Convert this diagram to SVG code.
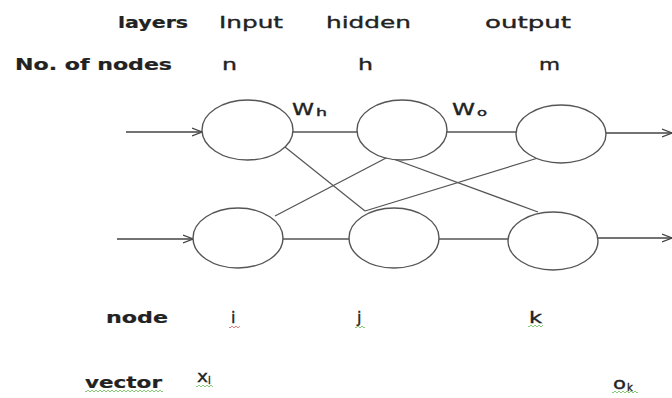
<svg xmlns="http://www.w3.org/2000/svg" width="672" height="398" viewBox="0 0 672 398">
  <defs>
    <marker id="arrow" viewBox="0 0 10 10" refX="10" refY="5" markerWidth="10" markerHeight="10" markerUnits="userSpaceOnUse" orient="auto">
      <path d="M0,1 L10,5 L0,9" fill="none" stroke="#444" stroke-width="1.3"/>
    </marker>
    <path id="squig" d="M0,0 q1,2 2,0 t2,0 t2,0 t2,0 t2,0 t2,0 t2,0 t2,0 t2,0 t2,0 t2,0 t2,0 t2,0 t2,0 t2,0 t2,0 t2,0 t2,0 t2,0 t2,0 t2,0 t2,0 t2,0 t2,0 t2,0 t2,0 t2,0 t2,0 t2,0 t2,0 t2,0 t2,0 t2,0 t2,0 t2,0 t2,0 t2,0 t2,0 t2,0 t2,0" fill="none" stroke-width="0.9"/>
  </defs>
  <style>
    .t { font-family: "DejaVu Sans", Verdana, sans-serif; font-size: 16px; fill: #222; stroke: #222; stroke-width: 0.35; }
    .b { font-weight: bold; stroke-width: 0.2; }
    .sub { font-size: 10px; }
    .node { fill: #fff; stroke: #555; stroke-width: 1.4; }
    .edge { stroke: #555; stroke-width: 1.3; fill: none; }
    .io { stroke: #444; stroke-width: 1.4; fill: none; marker-end: url(#arrow); }
    .green { stroke: #7cc46a; }
    .red { stroke: #e07070; }
  </style>
  <rect width="672" height="398" fill="#fff"/>

  <!-- header rows -->
  <g id="header">
    <text class="t b" x="118" y="28" textLength="70" lengthAdjust="spacingAndGlyphs">layers</text>
    <text class="t" x="219" y="28" textLength="64" lengthAdjust="spacingAndGlyphs">Input</text>
    <text class="t" x="326" y="28" textLength="85" lengthAdjust="spacingAndGlyphs">hidden</text>
    <text class="t" x="485" y="28" textLength="86" lengthAdjust="spacingAndGlyphs">output</text>
    <text class="t b" x="15" y="70" textLength="157" lengthAdjust="spacingAndGlyphs">No. of nodes</text>
    <text class="t" x="222" y="70" textLength="15" lengthAdjust="spacingAndGlyphs">n</text>
    <text class="t" x="358" y="70" textLength="15" lengthAdjust="spacingAndGlyphs">h</text>
    <text class="t" x="539" y="70" textLength="21" lengthAdjust="spacingAndGlyphs">m</text>
  </g>

  <!-- connectors -->
  <g id="connectors">
    <line class="io" x1="126" y1="132" x2="202" y2="132"/>
    <line class="io" x1="117" y1="239" x2="193" y2="239"/>
    <line class="edge" x1="293" y1="132" x2="357" y2="132"/>
    <line class="edge" x1="447" y1="132" x2="516" y2="132"/>
    <line class="edge" x1="283" y1="239" x2="349" y2="239"/>
    <line class="edge" x1="439" y1="239" x2="508" y2="239"/>
    <line class="edge" x1="285" y1="147" x2="365" y2="211"/>
    <line class="edge" x1="275" y1="216" x2="388" y2="157"/>
    <line class="edge" x1="388" y1="157" x2="538" y2="212"/>
    <line class="edge" x1="365" y1="211" x2="538" y2="158"/>
    <line class="io" x1="606" y1="133" x2="672" y2="133"/>
    <line class="io" x1="597" y1="238" x2="672" y2="238"/>
  </g>

  <!-- input layer -->
  <g id="input-top"><ellipse class="node" cx="247.5" cy="130" rx="45.5" ry="30"/></g>
  <g id="input-bottom"><ellipse class="node" cx="238" cy="238" rx="45" ry="30"/></g>
  <!-- hidden layer -->
  <g id="hidden-top"><ellipse class="node" cx="402" cy="130" rx="45" ry="30"/></g>
  <g id="hidden-bottom"><ellipse class="node" cx="394" cy="238" rx="45" ry="30"/></g>
  <!-- output layer -->
  <g id="output-top"><ellipse class="node" cx="561" cy="134" rx="45" ry="29"/></g>
  <g id="output-bottom"><ellipse class="node" cx="553" cy="241" rx="45" ry="29"/></g>

  <!-- weight labels -->
  <g id="weights">
    <text class="t" x="292" y="115" textLength="22" lengthAdjust="spacingAndGlyphs">W</text>
    <text class="t sub" x="316" y="116" textLength="11" lengthAdjust="spacingAndGlyphs">h</text>
    <text class="t" x="452" y="115" textLength="23" lengthAdjust="spacingAndGlyphs">W</text>
    <text class="t sub" x="477" y="116" textLength="10" lengthAdjust="spacingAndGlyphs">o</text>
  </g>

  <!-- index / vector labels -->
  <g id="labels">
    <text class="t b" x="106" y="323" textLength="62" lengthAdjust="spacingAndGlyphs">node</text>
    <text class="t" x="231" y="323">i</text>
    <text class="t" x="357" y="323">j</text>
    <text class="t" x="529" y="323" textLength="13" lengthAdjust="spacingAndGlyphs">k</text>
    <text class="t b" x="85" y="388" textLength="77" lengthAdjust="spacingAndGlyphs">vector</text>
    <text class="t" x="197" y="382" textLength="11" lengthAdjust="spacingAndGlyphs">x</text>
    <text class="t sub" x="208" y="384">i</text>
    <text class="t" x="613" y="389" textLength="13" lengthAdjust="spacingAndGlyphs">o</text>
    <text class="t sub" x="627" y="391">k</text>
  </g>

  <!-- spell-check underlines -->
  <g id="underlines">
    <svg x="229" y="326" width="11" height="4" overflow="hidden"><use href="#squig" class="red" y="1"/></svg>
    <svg x="355" y="326" width="10" height="4" overflow="hidden"><use href="#squig" class="green" y="1"/></svg>
    <svg x="528" y="325" width="15" height="4" overflow="hidden"><use href="#squig" class="green" y="1"/></svg>
    <svg x="85" y="390" width="78" height="4" overflow="hidden"><use href="#squig" class="green" y="1"/></svg>
    <svg x="196" y="385" width="17" height="4" overflow="hidden"><use href="#squig" class="green" y="1"/></svg>
    <svg x="612" y="391" width="26" height="4" overflow="hidden"><use href="#squig" class="green" y="1"/></svg>
  </g>
</svg>
